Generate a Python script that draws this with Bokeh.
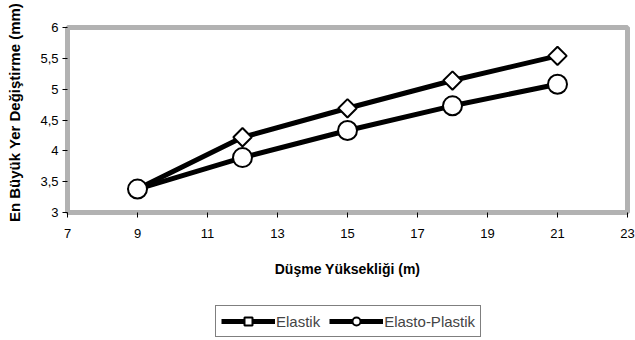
import math
from bokeh.plotting import figure
from bokeh.models import (Range1d, FixedTicker, CustomJSTickFormatter,
                          Legend, LegendItem, Label, BoxAnnotation)
from bokeh.embed import file_html
from bokeh.resources import INLINE

# ---- data ----
heights = [9, 12, 15, 18, 21]
elastik = [3.38, 4.22, 4.69, 5.14, 5.54]
elasto_plastik = [3.38, 3.89, 4.33, 4.73, 5.08]
x_ticks = [7, 9, 11, 13, 15, 17, 19, 21, 23]
y_ticks = [3, 3.5, 4, 4.5, 5, 5.5, 6]
x_label = "Düşme Yüksekliği (m)"
y_label = "En Büyük Yer Değiştirme (mm)"
series_names = ["Elastik", "Elasto-Plastik"]

FONT = "Liberation Sans"
W, H = 635, 340
# plot-area placement inside the canvas (pixels)
PL, PR, PT, PB = 67, 627, 27, 212
XMIN, XMAX, YMIN, YMAX = x_ticks[0], x_ticks[-1], y_ticks[0], y_ticks[-1]
xs = (PR - PL) / (XMAX - XMIN)
ys = (PB - PT) / (YMAX - YMIN)

p = figure(width=W, height=H, output_backend="svg", toolbar_location=None,
           x_range=Range1d(XMIN - PL / xs, XMAX + (W - PR) / xs),
           y_range=Range1d(YMIN - (H - PB) / ys, YMAX + PT / ys),
           min_border=0)
p.background_fill_color = "white"
p.border_fill_color = "white"
p.outline_line_color = None
p.xgrid.visible = False
p.ygrid.visible = False

p.xaxis.fixed_location = YMIN
p.yaxis.fixed_location = XMIN
for ax in (p.xaxis[0], p.yaxis[0]):
    ax.axis_line_color = None
    ax.major_tick_line_color = "black"
    ax.major_tick_line_width = 1
    ax.major_tick_in = 0
    ax.major_tick_out = 5
    ax.minor_tick_line_color = None
    ax.major_label_text_font = FONT
    ax.major_label_text_font_size = "13px"
    ax.major_label_text_color = "black"

p.xaxis.ticker = FixedTicker(ticks=x_ticks)
p.yaxis.ticker = FixedTicker(ticks=y_ticks)
p.yaxis.formatter = CustomJSTickFormatter(code="return tick.toString().replace('.', ',');")
p.xaxis.major_label_standoff = 11
p.yaxis.major_label_standoff = 4

# plot-area frame
p.add_layout(BoxAnnotation(left=XMIN, right=XMAX, bottom=YMIN, top=YMAX,
                           fill_alpha=0, line_color="black", line_width=5,
                           level="underlay"))

l1 = p.line(heights, elastik, line_color="black", line_width=5)
m1 = p.scatter(heights, elastik, marker="square", angle=math.pi / 4, size=13,
               fill_color="white", line_color="black", line_width=2)
l2 = p.line(heights, elasto_plastik, line_color="black", line_width=5)
m2 = p.scatter(heights, elasto_plastik, marker="circle", size=19,
               fill_color="white", line_color="black", line_width=2)

p.add_layout(Label(x=(PL + PR) / 2, y=H - 268, x_units="screen", y_units="screen",
                   text=x_label, text_align="center", text_baseline="middle",
                   text_font=FONT, text_font_style="bold", text_font_size="14px",
                   text_color="black"))
p.add_layout(Label(x=14, y=H - 112, x_units="screen", y_units="screen",
                   text=y_label, angle=math.pi / 2, text_align="center",
                   text_baseline="middle", text_font=FONT, text_font_style="bold",
                   text_font_size="15px", text_color="black"))

legend = Legend(items=[LegendItem(label=series_names[0], renderers=[l1, m1]),
                       LegendItem(label=series_names[1], renderers=[l2, m2])],
                orientation="horizontal", location=(215, 3))
legend.label_text_font = FONT
legend.label_text_font_size = "15px"
legend.glyph_width = 54
legend.glyph_height = 20
legend.label_height = 20
legend.label_standoff = 1
legend.spacing = 9
legend.padding = 5
legend.margin = 0
legend.border_line_color = "black"
legend.border_line_width = 1
legend.background_fill_alpha = 1
p.add_layout(legend)

open("out.html", "w").write(file_html(p, INLINE))
